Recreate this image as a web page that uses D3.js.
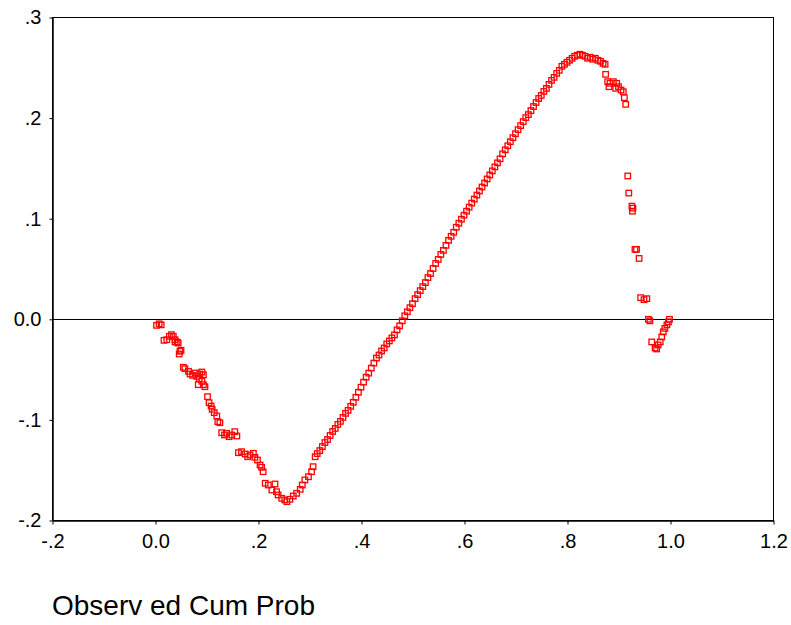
<!DOCTYPE html>
<html>
<head>
<meta charset="utf-8">
<script src="https://cdn.jsdelivr.net/npm/d3@7"></script>
<style>
  html, body { margin: 0; padding: 0; background: #fff; }
  svg { display: block; }
  text { font-family: "Liberation Sans", Arial, sans-serif; fill: #000; }
</style>
</head>
<body>
<svg id="chart" width="791" height="625"></svg>
<script>
// ---- data ----
const xTickValues = [-0.2, 0.0, 0.2, 0.4, 0.6, 0.8, 1.0, 1.2];
const xTickLabels = ["-.2", "0.0", ".2", ".4", ".6", ".8", "1.0", "1.2"];
const yTickValues = [0.3, 0.2, 0.1, 0.0, -0.1, -0.2];
const yTickLabels = [".3", ".2", ".1", "0.0", "-.1", "-.2"];
const xAxisTitle = "Observ ed Cum Prob";

// observed cumulative probability (x) and detrended deviation (y)
const cumProb = [
  0.003, 0.008, 0.012, 0.0175, 0.023, 0.028, 0.032, 0.0355, 0.039, 0.039,
  0.043, 0.045, 0.047, 0.0485, 0.0505, 0.055, 0.058, 0.065, 0.068, 0.073,
  0.078, 0.081, 0.084, 0.086, 0.087, 0.091, 0.091, 0.094, 0.094, 0.097,
  0.102, 0.105, 0.109, 0.111, 0.115, 0.120, 0.122, 0.126, 0.1295, 0.135,
  0.139, 0.144, 0.149, 0.155, 0.159, 0.162, 0.168, 0.175, 0.180, 0.1845,
  0.191, 0.194, 0.199, 0.204, 0.207, 0.210, 0.214, 0.220, 0.227, 0.233,
  0.236, 0.239, 0.246, 0.252, 0.256, 0.262, 0.2685, 0.275, 0.282, 0.286,
  0.291, 0.298, 0.304, 0.307, 0.311,
  0.315, 0.320, 0.325, 0.330, 0.335, 0.340, 0.345, 0.350, 0.355, 0.360,
  0.365, 0.370, 0.375, 0.380, 0.385, 0.390, 0.395, 0.400, 0.405, 0.410,
  0.415, 0.420, 0.425, 0.430, 0.435, 0.440, 0.445, 0.450, 0.455, 0.460,
  0.465, 0.470, 0.475, 0.480, 0.485, 0.490, 0.495, 0.500, 0.505, 0.510,
  0.515, 0.520, 0.525, 0.530, 0.535, 0.540, 0.545, 0.550, 0.555, 0.560,
  0.565, 0.570, 0.575, 0.580, 0.585, 0.590, 0.595, 0.600, 0.605, 0.610,
  0.615, 0.620, 0.625, 0.630, 0.635, 0.640, 0.645, 0.650, 0.655, 0.660,
  0.665, 0.670, 0.675, 0.680, 0.685, 0.690, 0.695, 0.700, 0.705, 0.710,
  0.715, 0.720, 0.725, 0.730, 0.735, 0.740, 0.745, 0.750, 0.755, 0.760,
  0.765, 0.770, 0.775, 0.780, 0.785, 0.790, 0.795, 0.800, 0.805, 0.810,
  0.815, 0.820, 0.825, 0.830,
  0.835, 0.840, 0.845, 0.850, 0.855, 0.860, 0.865, 0.870, 0.874,
  0.875, 0.879, 0.8835, 0.8816, 0.890, 0.8965, 0.900, 0.8945, 0.9049, 0.9093,
  0.9113, 0.914,
  0.918, 0.920, 0.926, 0.928, 0.927, 0.932, 0.935, 0.940, 0.943, 0.9495,
  0.955, 0.958, 0.961, 0.9645, 0.971, 0.974, 0.977, 0.981, 0.984, 0.987,
  0.990, 0.994, 0.997, 0.999
];
const deviation = [
  -0.0065, -0.005, -0.006, -0.0214, -0.0208, -0.0174, -0.0158, -0.0174, -0.0208, -0.0231,
  -0.0231, -0.0241, -0.035, -0.0323, -0.0313, -0.0482, -0.0496, -0.0522, -0.0549, -0.0562,
  -0.0539, -0.0572, -0.0655, -0.0595, -0.0549, -0.0529, -0.0621, -0.0556, -0.0655, -0.0675,
  -0.0774, -0.0834, -0.0867, -0.090, -0.0933, -0.0966, -0.1023, -0.1033, -0.1132, -0.1155,
  -0.1138, -0.1172, -0.1155, -0.1122, -0.1165, -0.1331, -0.1321, -0.1344, -0.1371, -0.1354,
  -0.1337, -0.1377, -0.1404, -0.1453, -0.1476, -0.152, -0.1635, -0.1652, -0.1702, -0.1642,
  -0.1719, -0.1751, -0.1784, -0.1801, -0.1818, -0.1794, -0.1761, -0.1735, -0.1695, -0.1652,
  -0.1602, -0.157, -0.152, -0.147, -0.1371,
  -0.134, -0.131, -0.127, -0.123, -0.120, -0.116, -0.112, -0.109, -0.105, -0.102,
  -0.098, -0.094, -0.091, -0.087, -0.083, -0.078, -0.073, -0.068, -0.063, -0.058,
  -0.054, -0.049, -0.044, -0.039, -0.036, -0.032, -0.029, -0.025, -0.022, -0.019,
  -0.016, -0.011, -0.007, -0.002, 0.003, 0.007, 0.011, 0.015, 0.020, 0.024,
  0.028, 0.032, 0.036, 0.041, 0.045, 0.050, 0.055, 0.059, 0.064, 0.068,
  0.073, 0.078, 0.082, 0.086, 0.091, 0.095, 0.099, 0.103, 0.107, 0.111,
  0.115, 0.119, 0.123, 0.127, 0.131, 0.135, 0.139, 0.143, 0.147, 0.151,
  0.155, 0.159, 0.164, 0.168, 0.172, 0.176, 0.180, 0.184, 0.188, 0.192,
  0.196, 0.200, 0.203, 0.207, 0.211, 0.215, 0.219, 0.222, 0.226, 0.229,
  0.233, 0.237, 0.240, 0.244, 0.247, 0.251, 0.253, 0.255, 0.257, 0.259,
  0.261, 0.262, 0.263, 0.262,
  0.261, 0.259, 0.260, 0.258, 0.259, 0.257, 0.256, 0.254, 0.253,
  0.243, 0.2357, 0.2341, 0.2307, 0.2357, 0.2341, 0.2307, 0.2291, 0.2274, 0.2257,
  0.2198, 0.2132,
  0.142, 0.125, 0.112, 0.110, 0.107, 0.069, 0.069, 0.060, 0.021, 0.019,
  0.020, -0.0005, -0.002, -0.023, -0.029, -0.030, -0.026, -0.023, -0.018, -0.013,
  -0.0095, -0.006, -0.003, -0.0005
];

// ---- drawing ----
const svg = d3.select("#chart");
const plot = { left: 52, top: 17, right: 773, bottom: 520 };

const x = d3.scaleLinear().domain([-0.2, 1.2]).range([plot.left, plot.right]);
const y = d3.scaleLinear().domain([-0.2, 0.3]).range([plot.bottom, plot.top]);

// frame
svg.append("rect")
  .attr("x", plot.left + 0.5).attr("y", plot.top + 0.5)
  .attr("width", plot.right - plot.left).attr("height", plot.bottom - plot.top)
  .attr("fill", "none").attr("stroke", "#000").attr("stroke-width", 1);

// zero reference line
svg.append("line")
  .attr("x1", x(-0.2)).attr("x2", x(1.2))
  .attr("y1", Math.round(y(0)) + 0.5).attr("y2", Math.round(y(0)) + 0.5)
  .attr("stroke", "#000").attr("stroke-width", 1);

// axes
const xAxis = d3.axisBottom(x)
  .tickValues(xTickValues)
  .tickFormat((d, i) => xTickLabels[i])
  .tickSize(4).tickSizeOuter(0).tickPadding(9);
const gx = svg.append("g")
  .attr("transform", `translate(0.5,${plot.bottom + 0.5})`)
  .call(xAxis);
gx.selectAll("text").style("font-size", "20px").style("font-family", '"Liberation Sans", Arial, sans-serif');
gx.select(".domain").attr("stroke-width", 1.5);

const yAxis = d3.axisLeft(y)
  .tickValues(yTickValues)
  .tickFormat((d, i) => yTickLabels[i])
  .tickSize(3).tickSizeOuter(0).tickPadding(8);
const gy = svg.append("g")
  .attr("transform", `translate(${plot.left + 0.5},0.5)`)
  .call(yAxis);
gy.selectAll("text").style("font-size", "20px").style("font-family", '"Liberation Sans", Arial, sans-serif');
gy.select(".domain").attr("stroke-width", 1.5);

// points: hollow red squares
const pts = cumProb.map((v, i) => ({ x: v, y: deviation[i] }));
const s = 5.5;
svg.append("g").selectAll("rect")
  .data(pts).join("rect")
  .attr("x", d => x(d.x) - s / 2)
  .attr("y", d => y(d.y) - s / 2)
  .attr("width", s).attr("height", s)
  .attr("fill", "none")
  .attr("stroke", "#ff0000")
  .attr("stroke-width", 1.3);

// x axis title
svg.append("text")
  .attr("x", 52).attr("y", 615)
  .style("font-size", "28px")
  .text(xAxisTitle);
</script>
</body>
</html>
